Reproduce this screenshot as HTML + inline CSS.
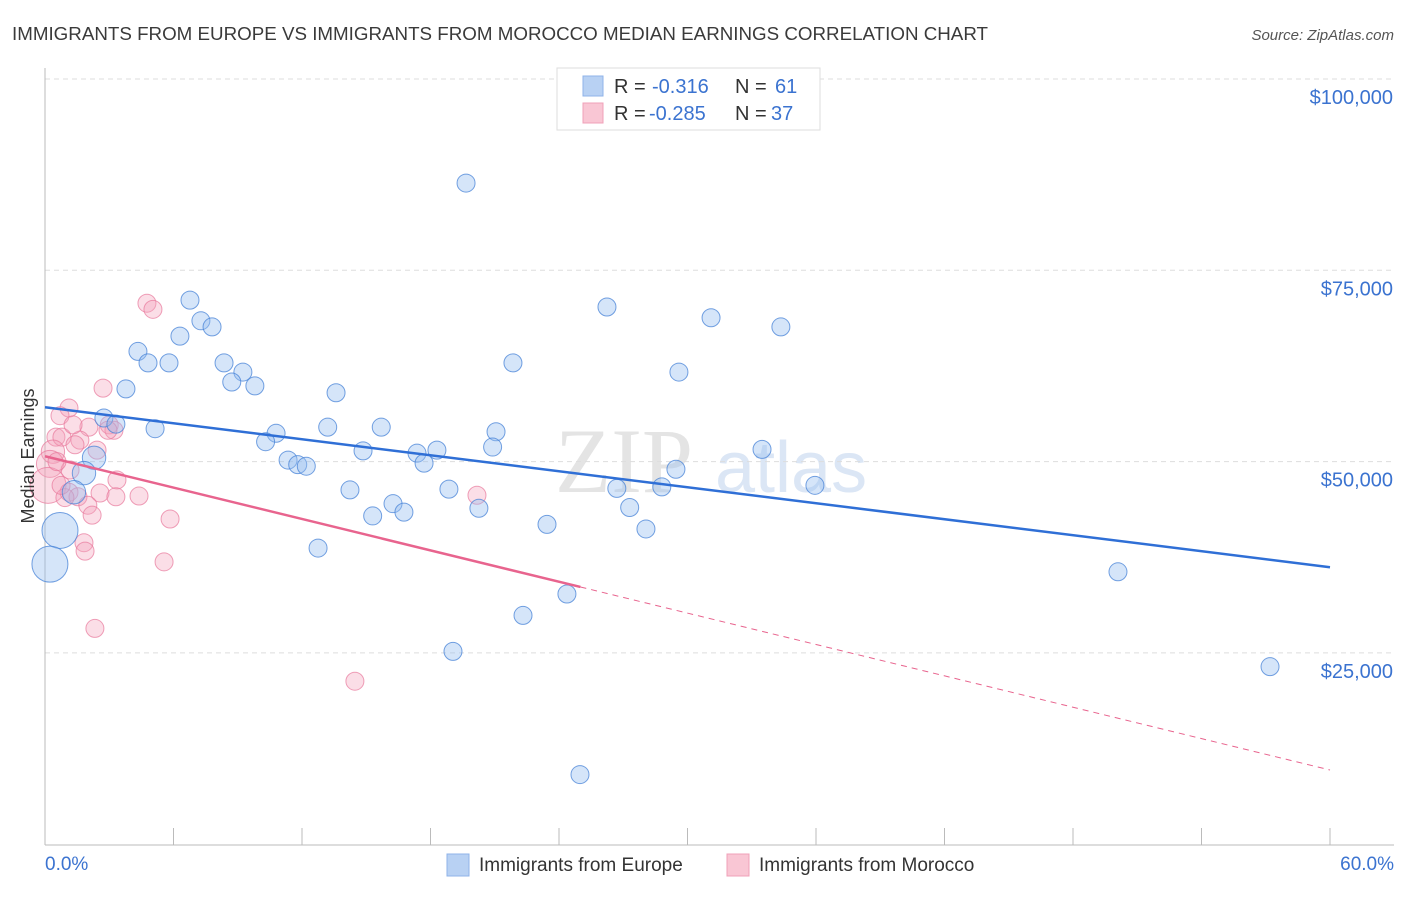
<!DOCTYPE html>
<html><head><meta charset="utf-8"><style>
body{margin:0;background:#fff;font-family:"Liberation Sans",sans-serif}
</style></head><body>
<svg id="chart" width="1406" height="892" xmlns="http://www.w3.org/2000/svg" font-family="Liberation Sans, sans-serif">
<text x="12" y="40" font-size="18" fill="#3a3a3a" textLength="976" lengthAdjust="spacingAndGlyphs">IMMIGRANTS FROM EUROPE VS IMMIGRANTS FROM MOROCCO MEDIAN EARNINGS CORRELATION CHART</text>
<text x="1394" y="40" font-size="15" fill="#555" text-anchor="end" font-style="italic">Source: ZipAtlas.com</text>
<text x="555" y="492" font-size="92" fill="#e4e4e4" font-family="Liberation Serif, serif">ZIP</text>
<text x="715" y="492" font-size="72" fill="#dbe6f5">atlas</text>
<g id="grid"></g>
<g id="axes"></g>
<g id="marks"></g>
<text transform="translate(34,456) rotate(-90)" font-size="18" fill="#333" text-anchor="middle">Median Earnings</text>
<g font-size="20">
<rect x="557" y="68" width="263" height="62" fill="#fff" stroke="#ddd"/>
<rect x="583" y="76" width="20" height="20" fill="#b8d1f3" stroke="#8fb3e8"/>
<text x="614" y="93" fill="#333">R =</text>
<text x="652" y="93" fill="#3b73d0">-0.316</text>
<text x="735" y="93" fill="#333">N =</text>
<text x="775" y="93" fill="#3b73d0">61</text>
<rect x="583" y="103" width="20" height="20" fill="#f9c6d4" stroke="#f0a0b8"/>
<text x="614" y="120" fill="#333">R =</text>
<text x="649" y="120" fill="#3b73d0">-0.285</text>
<text x="735" y="120" fill="#333">N =</text>
<text x="771" y="120" fill="#3b73d0">37</text>
</g>
<g>
<rect x="447" y="854" width="22" height="22" fill="#b8d1f3" stroke="#8fb3e8"/>
<text x="479" y="871" font-size="19" fill="#333">Immigrants from Europe</text>
<rect x="727" y="854" width="22" height="22" fill="#f9c6d4" stroke="#f0a0b8"/>
<text x="759" y="871" font-size="19" fill="#333">Immigrants from Morocco</text>
</g>
</svg>
<script>
const yTicks=[25000,50000,75000,100000];
const yTickLabels=["$25,000","$50,000","$75,000","$100,000"];
const xTickLabels=["0.0%","60.0%"];
const europeX=[19.66,6.77,7.28,7.8,6.3,4.34,4.81,5.79,8.36,9.24,8.72,9.8,3.78,13.59,26.24,31.1,34.36,21.85,29.6,2.75,3.31,5.14,10.79,13.2,15.7,10.3,14.85,21.06,20.9,18.3,17.37,17.7,11.35,11.8,12.2,2.29,1.82,1.35,0.7,0.23,14.24,18.86,15.3,16.25,16.76,20.26,12.75,23.44,26.7,27.3,28.8,29.46,28.06,33.48,35.95,24.37,22.32,19.05,24.98,50.1,57.2];
const europeY=[86400,71100,68400,67600,66400,64400,62900,62900,62900,61700,60400,59900,59500,59000,70200,68800,67600,62900,61700,55700,54900,54300,53700,54500,54500,52600,51400,53900,51900,51500,51100,49800,50200,49600,49400,50500,48500,46000,41000,36600,46300,46400,42900,44500,43400,43900,38700,41800,46500,44000,46700,49000,41200,51600,46900,32700,29900,25200,9100,35600,23200];
const europeSize=[1,1,1,1,1,1,1,1,1,1,1,1,1,1,1,1,1,1,1,1,1,1,1,1,1,1,1,1,1,1,1,1,1,1,1,1.3,1.3,1.3,2,2,1,1,1,1,1,1,1,1,1,1,1,1,1,1,1,1,1,1,1,1,1];
const moroccoX=[4.76,5.04,2.71,1.12,0.7,2.05,3.0,3.22,0.51,0.79,1.63,1.4,0.37,2.43,0.23,1.17,0.14,3.36,1.12,1.54,2.57,3.31,4.39,2.0,2.2,5.84,1.82,1.87,5.56,2.33,14.47,20.17,0.93,0.56,1.31,0.75,2.94];
const moroccoY=[70700,69900,59600,57000,56000,54500,54800,54100,53200,53200,52800,52200,51300,51500,49700,48900,46900,47600,46000,45400,45900,45400,45500,44300,43000,42500,39400,38300,36900,28200,21300,45600,45300,50000,54800,46900,54100];
const moroccoSize=[1,1,1,1,1,1,1,1,1,1,1,1,1.3,1,1.5,1,2,1,1,1,1,1,1,1,1,1,1,1,1,1,1,1,1,1,1,1,1];
const europeTrend=[57100,36200];
const moroccoTrend=[50700,9700];
const moroccoSolidEnd=25;
const NS="http://www.w3.org/2000/svg";
const X=v=>45+v/60*1285;
const Y=v=>79+(100000-v)/25000*191.3;
function el(tag,attrs,parent){const e=document.createElementNS(NS,tag);for(const k in attrs)e.setAttribute(k,attrs[k]);parent.appendChild(e);return e;}
const grid=document.getElementById('grid'),axes=document.getElementById('axes'),marks=document.getElementById('marks');
yTicks.forEach((t,i)=>{
 const g=el('line',{x1:45,x2:1394,y1:Y(t),y2:Y(t),stroke:'#ddd','stroke-dasharray':'5,4'},grid);
 
 
 const l=el('text',{x:1393,y:Y(t)+25,'font-size':20,fill:'#3b73d0','text-anchor':'end'},axes);
 l.textContent=yTickLabels[i];
 
 
});
const ax=el('line',{x1:45,x2:45,y1:68,y2:845,stroke:'#bbb'},axes);


const bx=el('line',{x1:45,x2:1394,y1:845,y2:845,stroke:'#bbb'},axes);


for(let i=0;i<=10;i++){const t=el('line',{x1:X(i*6),x2:X(i*6),y1:828,y2:845,stroke:'#bbb'},axes);
 
 }
[[0,'start',45],[60,'end',1394]].forEach((d,i)=>{const t=el('text',{x:d[2],y:870,'font-size':19,fill:'#3b73d0','text-anchor':d[1]},axes);t.textContent=xTickLabels[i];
 
 });
moroccoX.forEach((x,i)=>{const c=el('circle',{cx:X(x),cy:Y(moroccoY[i]),r:9*moroccoSize[i],fill:'rgba(244,160,185,0.35)',stroke:'rgba(232,120,155,0.7)','stroke-width':1},marks);
 
 });
europeX.forEach((x,i)=>{const c=el('circle',{cx:X(x),cy:Y(europeY[i]),r:9*europeSize[i],fill:'rgba(150,190,240,0.4)',stroke:'rgba(70,130,215,0.75)','stroke-width':1},marks);
 
 });
const bt=el('line',{x1:X(0),y1:Y(europeTrend[0]),x2:X(60),y2:Y(europeTrend[1]),stroke:'#2f6fd6','stroke-width':2.5},marks);


const my=v=>moroccoTrend[0]+(moroccoTrend[1]-moroccoTrend[0])*v/60;
const pt=el('line',{x1:X(0),y1:Y(moroccoTrend[0]),x2:X(moroccoSolidEnd),y2:Y(my(moroccoSolidEnd)),stroke:'#e8648e','stroke-width':2.5},marks);


const pd=el('line',{x1:X(moroccoSolidEnd),y1:Y(my(moroccoSolidEnd)),x2:X(60),y2:Y(moroccoTrend[1]),stroke:'#e8648e','stroke-width':1,'stroke-dasharray':'6,5'},marks);


</script>
</body></html>
